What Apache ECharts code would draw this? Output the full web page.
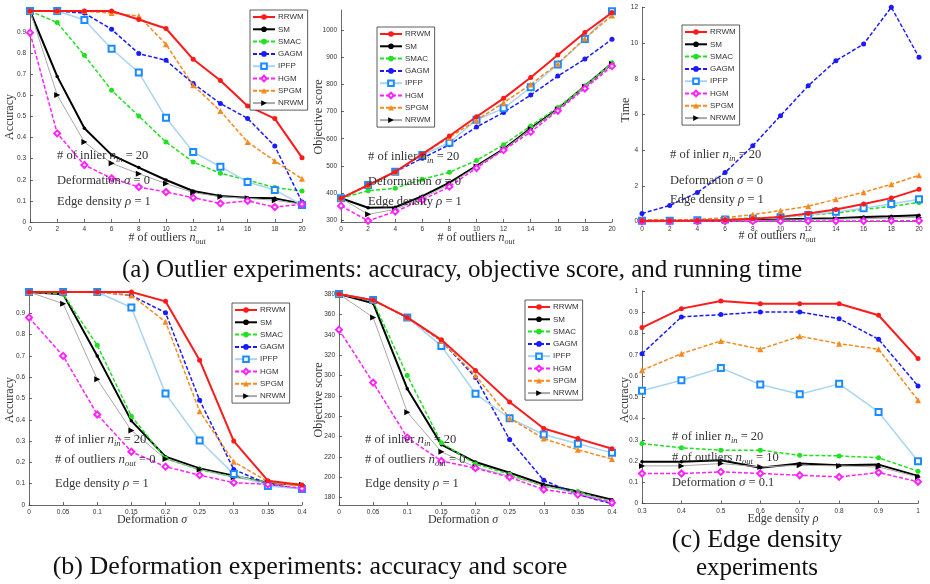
<!DOCTYPE html>
<html><head><meta charset="utf-8">
<script src="https://cdn.jsdelivr.net/npm/echarts@6/dist/echarts.min.js"></script>
<style>html,body{margin:0;padding:0;background:#fff}#c{width:930px;height:584px}</style>
</head><body><div id="c"></div>
<script>
// ---------- categories / x values ----------
const methods = ['RRWM','SM','SMAC','GAGM','IPFP','HGM','SPGM','NRWM'];
const outlierX = [0,2,4,6,8,10,12,14,16,18,20];
const deformX = [0,0.05,0.1,0.15,0.2,0.25,0.3,0.35,0.4];
const densityX = [0.3,0.4,0.5,0.6,0.7,0.8,0.9,1];

// ---------- tick labels ----------
const outlierTicks = [0,2,4,6,8,10,12,14,16,18,20];
const deformTicks = [0,0.05,0.1,0.15,0.2,0.25,0.3,0.35,0.4];
const densityTicks = [0.3,0.4,0.5,0.6,0.7,0.8,0.9,1];
const accTicks = [0,0.1,0.2,0.3,0.4,0.5,0.6,0.7,0.8,0.9];
const accTicksFull = [0,0.1,0.2,0.3,0.4,0.5,0.6,0.7,0.8,0.9,1];
const scoreOutTicks = [300,400,500,600,700,800,900,1000];
const timeTicks = [0,2,4,6,8,10,12];
const scoreDefTicks = [180,200,220,240,260,280,300,320,340,360,380];

// ---------- (a) accuracy vs outliers ----------
const accOut_RRWM = [1,1,1,1,0.96,0.917,0.771,0.671,0.55,0.49,0.305];
const accOut_SM   = [1,0.69,0.444,0.318,0.258,0.199,0.147,0.123,0.115,0.112,0.087];
const accOut_SMAC = [1,0.945,0.79,0.624,0.502,0.379,0.284,0.231,0.199,0.163,0.147];
const accOut_GAGM = [1,1,0.99,0.913,0.798,0.766,0.656,0.562,0.491,0.36,0.095];
const accOut_IPFP = [1,1,0.957,0.821,0.708,0.494,0.332,0.262,0.19,0.152,0.081];
const accOut_HGM  = [0.897,0.42,0.27,0.207,0.166,0.142,0.115,0.088,0.1,0.071,0.084];
const accOut_SPGM = [1,1,1,0.99,0.976,0.842,0.648,0.526,0.379,0.289,0.205];
const accOut_NRWM = [1,0.602,0.379,0.278,0.229,0.182,0.139,0.12,0.112,0.103,0.084];

// ---------- (a) objective score vs outliers ----------
const scoreOut_RRWM = [380,429,478,543,610,681,749,826,909,992,1066];
const scoreOut_SM   = [380,345,347,388,438,500,562,638,710,794,878];
const scoreOut_SMAC = [380,408,417,450,476,520,578,647,715,795,880];
const scoreOut_GAGM = [380,429,478,528,578,643,697,761,831,894,967];
const scoreOut_IPFP = [380,429,478,540,585,670,712,790,874,968,1070];
const scoreOut_HGM  = [352,297,331,374,423,492,558,625,703,785,868];
const scoreOut_SPGM = [380,429,478,543,605,668,733,800,877,970,1055];
const scoreOut_NRWM = [380,321,339,380,432,497,560,636,708,792,876];

// ---------- (a) running time vs outliers ----------
const timeOut_RRWM = [0.06,0.06,0.07,0.1,0.17,0.27,0.46,0.68,0.99,1.32,1.81];
const timeOut_SM   = [0.03,0.04,0.05,0.07,0.1,0.13,0.16,0.2,0.26,0.3,0.36];
const timeOut_SMAC = [0.09,0.1,0.12,0.16,0.2,0.26,0.36,0.49,0.68,0.86,1.08];
const timeOut_GAGM = [0.46,0.91,1.63,2.75,4.25,5.93,7.61,9.01,9.94,12,9.2];
const timeOut_IPFP = [0.05,0.06,0.08,0.12,0.17,0.25,0.37,0.55,0.75,0.99,1.26];
const timeOut_HGM  = [0.02,0.02,0.02,0.03,0.03,0.03,0.04,0.04,0.04,0.05,0.05];
const timeOut_SPGM = [0.08,0.1,0.12,0.22,0.4,0.62,0.86,1.26,1.65,2.09,2.6];
const timeOut_NRWM = [0.03,0.03,0.04,0.05,0.07,0.09,0.11,0.14,0.17,0.2,0.24];

// ---------- (b) accuracy vs deformation ----------
const accDef_RRWM = [1,1,1,1,0.956,0.68,0.3,0.114,0.094];
const accDef_SM   = [1,0.99,0.7,0.395,0.227,0.172,0.138,0.105,0.094];
const accDef_SMAC = [1,0.99,0.75,0.417,0.219,0.165,0.133,0.11,0.09];
const accDef_GAGM = [1,1,1,0.984,0.903,0.492,0.167,0.098,0.075];
const accDef_IPFP = [1,1,1,0.927,0.523,0.303,0.145,0.089,0.075];
const accDef_HGM  = [0.88,0.7,0.425,0.25,0.18,0.14,0.105,0.097,0.078];
const accDef_SPGM = [1,1,1,0.984,0.86,0.44,0.203,0.11,0.086];
const accDef_NRWM = [1,0.945,0.59,0.35,0.216,0.167,0.13,0.105,0.095];

// ---------- (b) objective score vs deformation ----------
const scoreDef_RRWM = [380,374,357,335,305,274,248,238,228];
const scoreDef_SM   = [380,371,287,232,215,204.5,193,186,178];
const scoreDef_SMAC = [380,373,300,234,213,203,191,186,175.5];
const scoreDef_GAGM = [380,374,357,334,298,237,197,183,174];
const scoreDef_IPFP = [380,374,357,329,282,258,242,233,224];
const scoreDef_HGM  = [345,293,239,216,209,200,188,183,175];
const scoreDef_SPGM = [380,374,357,334,300,258,238,227,218];
const scoreDef_NRWM = [380,357,264,225,210,201,192,184,177];

// ---------- (c) accuracy vs edge density ----------
const accDen_RRWM = [0.828,0.917,0.953,0.94,0.94,0.94,0.886,0.682];
const accDen_SM   = [0.196,0.196,0.204,0.168,0.188,0.18,0.183,0.13];
const accDen_SMAC = [0.282,0.262,0.251,0.251,0.227,0.224,0.215,0.152];
const accDen_GAGM = [0.705,0.878,0.889,0.901,0.901,0.87,0.773,0.553];
const accDen_IPFP = [0.531,0.58,0.638,0.56,0.514,0.563,0.431,0.199];
const accDen_HGM  = [0.141,0.141,0.149,0.141,0.133,0.125,0.146,0.102];
const accDen_SPGM = [0.627,0.705,0.765,0.726,0.787,0.752,0.726,0.486];
const accDen_NRWM = [0.177,0.177,0.188,0.172,0.18,0.177,0.172,0.125];

// ---------- styles ----------
const styles = {
  RRWM:{c:'#ff1a1a', l:'#ff1a1a', t:'solid', w:2,   s:'circle', z:5, r:0},
  SM:  {c:'#000000', l:'#000000', t:'solid', w:2,   s:'circle', z:3, r:0},
  SMAC:{c:'#22e022', l:'#22e022', t:[4,2],   w:1.5, s:'circle', z:5, r:0},
  GAGM:{c:'#1a1aff', l:'#1a1aff', t:[4,2],   w:1.5, s:'circle', z:5, r:0},
  IPFP:{c:'#1a8cff', l:'#a9d5ef', t:'solid', w:1.5, s:'emptyRect', z:6, r:0},
  HGM: {c:'#ff22ff', l:'#ff22ff', t:[4,2],   w:1.5, s:'emptyDiamond', z:7, r:0},
  SPGM:{c:'#f58a1f', l:'#f58a1f', t:[4,2],   w:1.5, s:'triangle', z:6, r:0},
  NRWM:{c:'#000000', l:'#a8a8a8', t:'solid', w:1,   s:'triangle', z:6, r:-90}
};
const drawOrder = ['NRWM','HGM','IPFP','SPGM','SMAC','SM','GAGM','RRWM'];

const panels = [
  {x:outlierX, d:{RRWM:accOut_RRWM,SM:accOut_SM,SMAC:accOut_SMAC,GAGM:accOut_GAGM,IPFP:accOut_IPFP,HGM:accOut_HGM,SPGM:accOut_SPGM,NRWM:accOut_NRWM}},
  {x:outlierX, d:{RRWM:scoreOut_RRWM,SM:scoreOut_SM,SMAC:scoreOut_SMAC,GAGM:scoreOut_GAGM,IPFP:scoreOut_IPFP,HGM:scoreOut_HGM,SPGM:scoreOut_SPGM,NRWM:scoreOut_NRWM}},
  {x:outlierX, d:{RRWM:timeOut_RRWM,SM:timeOut_SM,SMAC:timeOut_SMAC,GAGM:timeOut_GAGM,IPFP:timeOut_IPFP,HGM:timeOut_HGM,SPGM:timeOut_SPGM,NRWM:timeOut_NRWM}},
  {x:deformX, d:{RRWM:accDef_RRWM,SM:accDef_SM,SMAC:accDef_SMAC,GAGM:accDef_GAGM,IPFP:accDef_IPFP,HGM:accDef_HGM,SPGM:accDef_SPGM,NRWM:accDef_NRWM}},
  {x:deformX, d:{RRWM:scoreDef_RRWM,SM:scoreDef_SM,SMAC:scoreDef_SMAC,GAGM:scoreDef_GAGM,IPFP:scoreDef_IPFP,HGM:scoreDef_HGM,SPGM:scoreDef_SPGM,NRWM:scoreDef_NRWM}},
  {x:densityX, d:{RRWM:accDen_RRWM,SM:accDen_SM,SMAC:accDen_SMAC,GAGM:accDen_GAGM,IPFP:accDen_IPFP,HGM:accDen_HGM,SPGM:accDen_SPGM,NRWM:accDen_NRWM}}
];

const grids = [
  {left:30,  top:11,  width:272, height:211},
  {left:341, top:10,  width:271, height:212},
  {left:642, top:7.3, width:277, height:214.4},
  {left:29,  top:292, width:273, height:213},
  {left:339, top:294, width:273, height:211},
  {left:642, top:291, width:276, height:212.5}
];
const xRanges = [[0,20,outlierTicks],[0,20,outlierTicks],[0,20,outlierTicks],[0,0.4,deformTicks],[0,0.4,deformTicks],[0.3,1,densityTicks]];
const yRanges = [[0,1,accTicks],[292.6,1075,scoreOutTicks],[0,12,timeTicks],[0,1,accTicks],[172.8,380,scoreDefTicks],[0,1,accTicksFull]];

const axisCommon = {
  axisLine:{show:true, onZero:false, lineStyle:{color:'#444', width:0.8}},
  splitLine:{show:false},
  nameTextStyle:{fontSize:1}
};
const xAxes = xRanges.map((r,i)=>Object.assign({}, axisCommon, {
  type:'value', gridIndex:i, min:r[0], max:r[1],
  axisTick:{show:true, inside:true, length:3, lineStyle:{color:'#444',width:0.8}, customValues:r[2]},
  axisLabel:{fontSize:6.5, color:'#333', margin:4, fontFamily:'Liberation Sans', customValues:r[2], formatter:v=>String(v)}
}));
const yAxes = yRanges.map((r,i)=>Object.assign({}, axisCommon, {
  type:'value', gridIndex:i, min:r[0], max:r[1],
  axisTick:{show:true, inside:true, length:3, lineStyle:{color:'#444',width:0.8}, customValues:r[2]},
  axisLabel:{fontSize:6.5, color:'#333', margin:4, fontFamily:'Liberation Sans', customValues:r[2], formatter:v=>String(v)}
}));

const series = [];
panels.forEach((p,gi)=>{
  drawOrder.forEach(m=>{
    const st = styles[m];
    series.push({
      type:'line', name:m, xAxisIndex:gi, yAxisIndex:gi,
      data:p.x.map((xv,k)=>[xv,p.d[m][k]]),
      symbol:st.s, symbolSize:(st.s==='circle'&&m==='SM')?3.5:(st.s==='circle'?5:6),
      symbolRotate:st.r, showSymbol:true, animation:false, z:st.z+(m==='RRWM'?3:0),
      itemStyle:{color:st.c, borderWidth:1},
      lineStyle:{color:st.l, type:st.t, width:st.w}
    });
  });
});

const legendBoxes = [[250,10],[377,27],[682,25],[232,303],[525,300]];
const legends = legendBoxes.map(b=>({
  data:methods, left:b[0], top:b[1], orient:'vertical',
  itemWidth:22, itemHeight:7, itemGap:4.3, padding:[3,4,3,2],
  borderColor:'#333', borderWidth:0.8, backgroundColor:'#fff',
  textStyle:{fontSize:8, color:'#333', fontFamily:'Liberation Sans', padding:[0,0,0,-2]},
  selectedMode:false, z:20
}));

const serif = 'Liberation Serif';
const rich = {
  it:{fontFamily:serif, fontStyle:'italic', fontSize:13, fill:'#333', verticalAlign:'middle'},
  sub:{fontFamily:serif, fontStyle:'italic', fontSize:8.5, fill:'#333', verticalAlign:'bottom', padding:[7,0,0,0]},
  itx:{fontFamily:serif, fontStyle:'italic', fontSize:12, fill:'#333'},
  subx:{fontFamily:serif, fontStyle:'italic', fontSize:8, fill:'#333', padding:[7,0,0,0]}
};
function txt(x,y,text,size,opts){
  return Object.assign({type:'text', x:x, y:y, z:30,
    style:{text:text, fontFamily:serif, fontSize:size, fill:'#333', align:'left', verticalAlign:'middle', rich:rich}}, opts||{});
}
function ann(x,y,lines){
  return lines.map((t,i)=>txt(x,y[i],t,12.5));
}
function centered(x,y,text,size,rot,color){
  const o = txt(x,y,text,size);
  o.style.align='center';
  if(color){o.style.fill=color;}
  if(rot){o.rotation=rot;}
  return o;
}
const graphics = [].concat(
  ann(57,[156,181,202],['# of inlier {it|n}{sub|in} = 20','Deformation {it|σ} = 0','Edge density {it|ρ} = 1']),
  ann(368,[157,182,202],['# of inlier {it|n}{sub|in} = 20','Deformation {it|σ} = 0','Edge density {it|ρ} = 1']),
  ann(670,[155,181,200],['# of inlier {it|n}{sub|in} = 20','Deformation {it|σ} = 0','Edge density {it|ρ} = 1']),
  ann(55,[440,460,484],['# of inlier {it|n}{sub|in} = 20','# of outliers {it|n}{sub|out} = 0','Edge density {it|ρ} = 1']),
  ann(365,[440,460,484],['# of inlier {it|n}{sub|in} = 20','# of outliers {it|n}{sub|out} = 0','Edge density {it|ρ} = 1']),
  ann(672,[437,458,483],['# of inlier {it|n}{sub|in} = 20','# of outliers {it|n}{sub|out} = 10','Deformation {it|σ} = 0.1']),
  [
    centered(167,238,'# of outliers {itx|n}{subx|out}',12),
    centered(476,238,'# of outliers {itx|n}{subx|out}',12),
    centered(777,236,'# of outliers {itx|n}{subx|out}',12),
    centered(152,520,'Deformation {itx|σ}',12),
    centered(463,520,'Deformation {itx|σ}',12),
    centered(783,519,'Edge density {itx|ρ}',12),
    centered(10,117,'Accuracy',12,Math.PI/2),
    centered(319,117,'Objective score',12,Math.PI/2),
    centered(626,110,'Time',12,Math.PI/2),
    centered(10,400,'Accuracy',12,Math.PI/2),
    centered(319,400,'Objective score',12,Math.PI/2),
    centered(625,400,'Accuracy',12,Math.PI/2),
    centered(462,270,'(a) Outlier experiments: accuracy, objective score, and running time',25,0,'#111'),
    centered(310,567,'(b) Deformation experiments: accuracy and score',26,0,'#111'),
    centered(757,540,'(c) Edge density',26,0,'#111'),
    centered(757,568,'experiments',25,0,'#111')
  ]
);

const chart = echarts.init(document.getElementById('c'), null, {renderer:'canvas'});
chart.setOption({
  animation:false,
  backgroundColor:'#fff',
  grid:grids.map(g=>Object.assign({containLabel:false, show:false}, g)),
  xAxis:xAxes, yAxis:yAxes, legend:legends, series:series, graphic:graphics
});
</script></body></html>
